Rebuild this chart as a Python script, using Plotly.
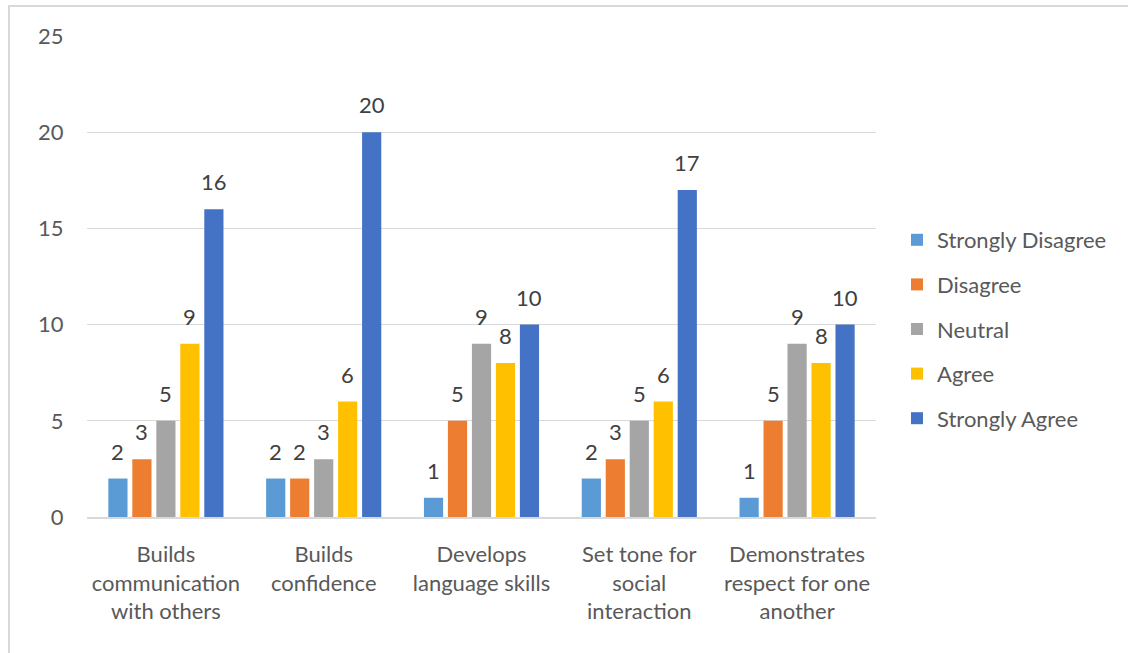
import plotly.graph_objects as go

categories = [
    "Builds<br>communication<br>with others",
    "Builds<br>confidence",
    "Develops<br>language skills",
    "Set tone for<br>social<br>interaction",
    "Demonstrates<br>respect for one<br>another",
]
strongly_disagree = [2, 2, 1, 2, 1]
disagree = [3, 2, 5, 3, 5]
neutral = [5, 3, 9, 5, 9]
agree = [9, 6, 8, 6, 8]
strongly_agree = [16, 20, 10, 17, 10]

series = [
    ("Strongly Disagree", strongly_disagree, "#5B9BD5"),
    ("Disagree", disagree, "#ED7D31"),
    ("Neutral", neutral, "#A5A5A5"),
    ("Agree", agree, "#FFC000"),
    ("Strongly Agree", strongly_agree, "#4472C4"),
]

FONT = "Lato, Carlito, Calibri, sans-serif"
FS = 22

W, H = 1128, 653
L, R, T, B = 87, 252, 36, 136
pw, ph = W - L - R, H - T - B

BARGAP = 0.24
GROUPGAP = 0.2
n = len(series)
slot_px = (pw / len(categories)) * (1 - BARGAP) / n


def px(x):
    return (x - L) / pw


def py(y):
    return (H - B - y) / ph


fig = go.Figure()
annotations = []
for i, (name, vals, color) in enumerate(series):
    fig.add_trace(go.Bar(
        name=name,
        x=categories,
        y=vals,
        marker=dict(color=color, line=dict(width=0)),
        legendgroup=f"g{i}",
    ))
    # value labels sitting above each bar
    for cat, v in zip(categories, vals):
        annotations.append(dict(
            x=cat, y=v, xref="x", yref="y",
            text=str(v), showarrow=False,
            xanchor="center", yanchor="bottom",
            xshift=(i - (n - 1) / 2) * slot_px, yshift=12,
            font=dict(family=FONT, size=FS, color="#404040"),
        ))

fig.update_layout(
    width=W, height=H,
    margin=dict(l=L, r=R, t=T, b=B),
    paper_bgcolor="white",
    plot_bgcolor="white",
    barmode="group",
    bargap=BARGAP,
    bargroupgap=GROUPGAP,
    font=dict(family=FONT, color="#595959", size=FS),
    showlegend=True,
    legend=dict(
        x=px(897), y=py(219), xanchor="left", yanchor="top",
        font=dict(family=FONT, size=FS, color="#595959"),
        tracegroupgap=13,
        bgcolor="rgba(0,0,0,0)",
    ),
    xaxis=dict(
        showgrid=False,
        showline=True, linecolor="#d9d9d9", linewidth=1.5,
        ticks="outside", ticklen=17, tickcolor="rgba(0,0,0,0)",
        tickfont=dict(family=FONT, size=FS, color="#595959"),
    ),
    yaxis=dict(
        range=[0, 25], dtick=5,
        showgrid=True, gridcolor="#d9d9d9", gridwidth=1,
        zeroline=False, showline=False,
        ticks="outside", ticklen=18, tickcolor="rgba(0,0,0,0)",
        tickfont=dict(family=FONT, size=FS, color="#595959"),
    ),
    annotations=annotations,
    shapes=[dict(
        type="rect", xref="paper", yref="paper",
        x0=px(9), x1=px(1140), y0=py(6), y1=py(670),
        line=dict(color="#d9d9d9", width=2),
        fillcolor="rgba(0,0,0,0)", layer="below",
    )],
)

fig.write_html("out.html")
